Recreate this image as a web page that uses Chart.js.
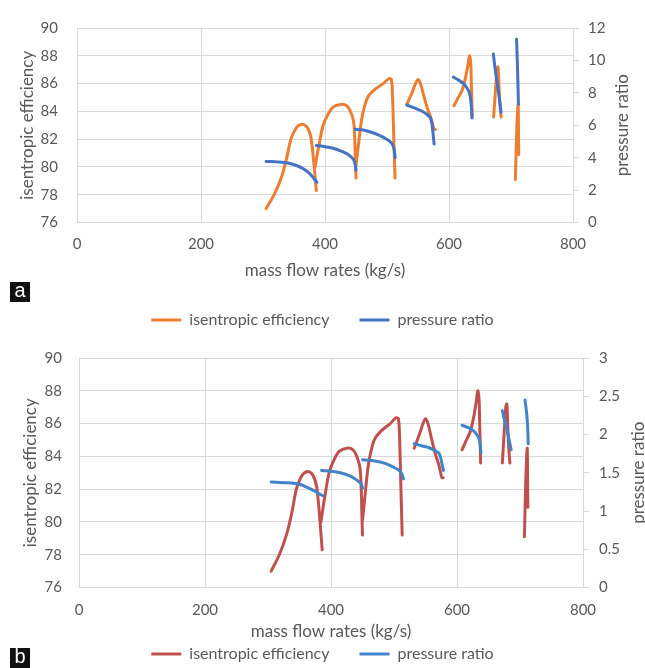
<!DOCTYPE html>
<html>
<head>
<meta charset="utf-8">
<script src="https://cdn.jsdelivr.net/npm/chart.js@4.4.1/dist/chart.umd.min.js"></script>
<style>
  html, body { margin: 0; padding: 0; background: #fff; }
  body { width: 645px; height: 668px; position: relative; overflow: hidden; }
  canvas { position: absolute; left: 0; }
  #chart-a { top: 0; }
  #chart-b { top: 332px; }
  .tag {
    position: absolute; left: 10px; width: 20px; height: 20px;
    background: #111; color: #fff; text-align: center;
    font: 20px 'Liberation Sans', sans-serif; line-height: 17px;
  }
</style>
</head>
<body>
<canvas id="chart-a" width="645" height="338"></canvas>
<canvas id="chart-b" width="645" height="340"></canvas>
<div class="tag" style="top:282px">a</div>
<div class="tag" style="top:648px">b</div>
<script>
// isentropic efficiency, one curve per speed line: [mass flow, efficiency]
const eff1 = [[305, 77.0], [318, 78.0], [330, 79.3], [338, 80.6], [345, 82.0], [352, 82.7], [358, 83.0], [366, 83.05], [372, 82.8], [377, 82.2], [380, 81.2], [383, 79.8], [386, 78.3]];
const eff2 = [[384, 80.0], [390, 81.5], [397, 83.0], [405, 83.8], [413, 84.3], [425, 84.5], [435, 84.4], [441, 84.0], [446, 83.3], [448, 82.0], [449, 80.5], [450, 79.2]];
const eff3 = [[450, 80.1], [455, 82.0], [459, 83.4], [464, 84.4], [470, 85.1], [481, 85.6], [494, 86.0], [503, 86.35], [507, 86.3], [509, 85.0], [511, 82.0], [513, 79.2]];
const eff4 = [[532, 84.5], [540, 85.3], [546, 86.0], [550, 86.3], [554, 86.0], [560, 85.0], [566, 84.1], [571, 83.5], [574, 83.0], [576, 82.7], [578, 82.7]];
const eff5 = [[608, 84.4], [615, 85.0], [621, 85.5], [626, 86.3], [630, 87.2], [633, 88.0], [635, 87.5], [636, 86.0], [637, 84.5], [637.5, 83.6]];
const eff6 = [[672, 83.6], [674, 84.9], [676, 86.2], [677.5, 87.0], [679, 87.2], [680, 86.5], [681, 85.4], [682.5, 84.3], [684, 83.6]];
const eff7 = [[707, 79.1], [708.5, 81.5], [710, 83.5], [711.5, 84.5], [712, 83.0], [712.3, 81.5], [712.5, 80.9]];

// pressure ratio, chart a
const prA1 = [[305, 3.77], [325, 3.74], [342, 3.66], [355, 3.50], [365, 3.32], [374, 3.06], [380, 2.82], [384, 2.62], [387, 2.48]];
const prA2 = [[386, 4.75], [400, 4.68], [413, 4.58], [425, 4.42], [435, 4.25], [442, 4.05], [446, 3.88], [448.5, 3.6], [450, 3.22]];
const prA3 = [[449, 5.75], [460, 5.72], [472, 5.6], [486, 5.4], [499, 5.15], [506, 4.95], [510, 4.72], [512, 4.4], [513, 4.0]];
const prA4 = [[532, 7.25], [545, 7.05], [556, 6.88], [565, 6.65], [570, 6.45], [572.5, 6.1], [574, 5.6], [575, 5.2], [576, 4.85]];
const prA5 = [[607, 8.97], [615, 8.8], [623, 8.58], [629, 8.3], [633, 8.0], [635.5, 7.4], [636.5, 6.9], [637, 6.45]];
const prA6 = [[671.5, 10.4], [674, 9.6], [677, 8.8], [680, 8.0], [682, 7.4], [684, 6.8]];
const prA7 = [[709, 11.3], [709.8, 10.4], [710.6, 9.4], [711.3, 8.4], [712, 7.3]];

// pressure ratio, chart b
const prB1 = [[305, 1.38], [330, 1.37], [350, 1.35], [362, 1.31], [372, 1.27], [380, 1.23], [387, 1.20]];
const prB2 = [[385, 1.53], [400, 1.52], [415, 1.50], [430, 1.46], [440, 1.41], [447, 1.36], [450, 1.30]];
const prB3 = [[450, 1.67], [465, 1.66], [478, 1.64], [490, 1.61], [500, 1.57], [508, 1.53], [512, 1.49], [515, 1.42]];
const prB4 = [[532, 1.88], [545, 1.85], [555, 1.83], [565, 1.79], [571, 1.76], [574, 1.70], [576, 1.62], [578.5, 1.53]];
const prB5 = [[608, 2.12], [618, 2.09], [626, 2.05], [632, 1.99], [635.5, 1.93], [637, 1.85], [638, 1.76]];
const prB6 = [[672, 2.31], [675, 2.20], [679, 2.08], [682.5, 1.94], [686, 1.80]];
const prB7 = [[708, 2.45], [710, 2.32], [711.5, 2.18], [712.5, 2.03], [713, 1.88]];

const effCurves = [eff1, eff2, eff3, eff4, eff5, eff6, eff7];
const prCurvesA = [prA1, prA2, prA3, prA4, prA5, prA6, prA7];
const prCurvesB = [prB1, prB2, prB3, prB4, prB5, prB6, prB7];

const GRAY = '#595959';
const GRID = '#d9d9d9';
const FONT = 'Lato';

// one dataset per series; a null point breaks the line between speed lines
function joinCurves(curves) {
  const out = [];
  curves.forEach((c, i) => {
    if (i) out.push({ x: null, y: null });
    c.forEach(([x, y]) => out.push({ x, y }));
  });
  return out;
}

function line(label, curves, color, axis) {
  return {
    label,
    data: joinCurves(curves),
    yAxisID: axis,
    borderColor: color,
    backgroundColor: color,
    showLine: true,
    pointRadius: 0,
    borderWidth: 3,
    borderCapStyle: 'round',
    tension: 0.3,
  };
}

// right-hand title reads bottom-to-top, like the left one
function sideTitle(x) {
  return {
    id: 'sideTitle',
    afterDraw(chart) {
      const { ctx, chartArea } = chart;
      ctx.save();
      ctx.translate(x, (chartArea.top + chartArea.bottom) / 2);
      ctx.rotate(-Math.PI / 2);
      ctx.font = '17px ' + FONT;
      ctx.fillStyle = GRAY;
      ctx.textAlign = 'center';
      ctx.textBaseline = 'middle';
      ctx.fillText('pressure ratio', 0, 0);
      ctx.restore();
    },
  };
}

function makeChart(id, opts) {
  const tickFont = { family: FONT, size: 15 };
  const titleFont = { family: FONT, size: 17 };
  const legendFont = { family: FONT, size: 16 };
  return new Chart(document.getElementById(id), {
    type: 'scatter',
    data: {
      datasets: [
        line('pressure ratio', opts.pr, opts.prColor, 'y1'),
        line('isentropic efficiency', effCurves, opts.effColor, 'y'),
      ],
    },
    options: {
      responsive: false,
      animation: false,
      layout: { padding: { top: opts.top, left: 0, right: 0, bottom: 0 } },
      plugins: {
        tooltip: { enabled: false },
        legend: {
          position: 'bottom',
          reverse: true,
          labels: {
            boxWidth: 30,
            boxHeight: 3,
            padding: 30,
            color: GRAY,
            font: legendFont,
            generateLabels: (chart) =>
              Chart.defaults.plugins.legend.labels.generateLabels(chart).map((l) => Object.assign(l, { lineWidth: 0 })),
          },
        },
      },
      scales: {
        x: {
          type: 'linear',
          min: 0,
          max: 800,
          ticks: { stepSize: 200, padding: opts.xTickPad, color: GRAY, font: tickFont },
          grid: { color: GRID, drawTicks: false },
          border: { color: GRID },
          title: { display: true, text: 'mass flow rates (kg/s)', color: GRAY, font: titleFont, padding: { top: 0, bottom: opts.xTitlePad } },
          afterFit: (s) => { s.height = opts.xHeight; },
        },
        y: {
          type: 'linear',
          position: 'left',
          min: 76,
          max: 90,
          ticks: { stepSize: 2, padding: opts.yTickPad, color: GRAY, font: tickFont },
          grid: { color: GRID, drawTicks: false },
          border: { color: GRID },
          title: { display: true, text: 'isentropic efficiency', color: GRAY, font: titleFont, padding: { top: opts.yTitlePad, bottom: 0 } },
          afterFit: (s) => { s.width = opts.left; },
        },
        y1: {
          type: 'linear',
          position: 'right',
          min: 0,
          max: opts.prMax,
          ticks: { stepSize: opts.prStep, padding: opts.y1TickPad, color: GRAY, font: tickFont, callback: (v) => v },
          grid: { drawOnChartArea: false, color: GRID, tickLength: 6 },
          border: { color: GRID },
          afterFit: (s) => { s.width = 645 - opts.right; },
        },
      },
    },
    plugins: [sideTitle(opts.sideX)],
  });
}

makeChart('chart-a', {
  pr: prCurvesA, prColor: '#4472C4', effColor: '#ED7D31',
  prMax: 12, prStep: 2,
  top: 16, left: 77, right: 573,
  xHeight: 59.5, xTickPad: 13, xTitlePad: 0.8,
  yTickPad: 19, yTitlePad: 17.8, y1TickPad: 9, sideX: 623,
});

makeChart('chart-b', {
  pr: prCurvesB, prColor: '#4284C9', effColor: '#C0504D',
  prMax: 3, prStep: 0.5,
  top: 18.5, left: 79, right: 583,
  xHeight: 28.5, xTickPad: 14, xTitlePad: -26.2,
  yTickPad: 17, yTitlePad: 20.8, y1TickPad: 10, sideX: 639,
});
</script>
</body>
</html>
